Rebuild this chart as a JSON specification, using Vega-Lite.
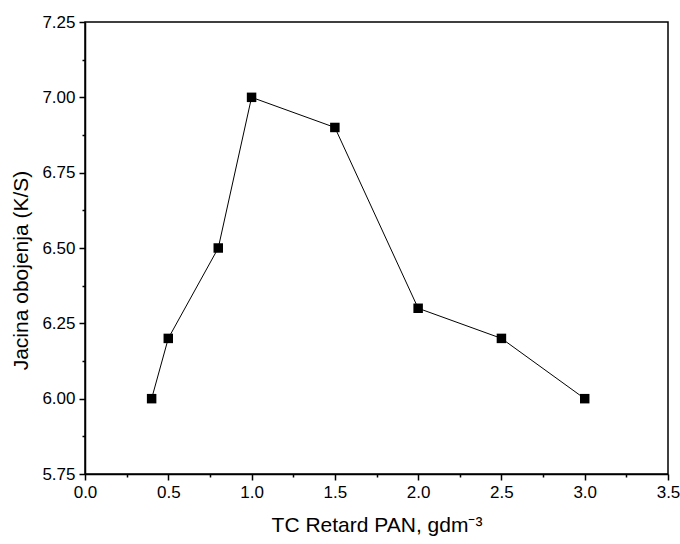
{
  "$schema": "https://vega.github.io/schema/vega-lite/v6.json",
  "width": 583,
  "height": 452,
  "autosize": {"type": "none"},
  "padding": {"left": 85, "top": 22, "right": 12, "bottom": 70},
  "background": "white",
  "config": {
    "view": {"stroke": "black", "strokeWidth": 1.5},
    "font": "Liberation Sans",
    "axis": {"grid": false, "domainColor": "black", "domainWidth": 1.5, "tickColor": "black", "tickWidth": 1.5, "labelColor": "black", "titleColor": "black", "labelFont": "Liberation Sans", "titleFont": "Liberation Sans", "titleFontWeight": "normal", "labelFontSize": 17, "titleFontSize": 21, "labelFlush": false, "labelOverlap": false, "labelBound": false}
  },
  "data": {"values": [
    {"x": 0.4, "y": 6.0},
    {"x": 0.5, "y": 6.2},
    {"x": 0.8, "y": 6.5},
    {"x": 1.0, "y": 7.0},
    {"x": 1.5, "y": 6.9},
    {"x": 2.0, "y": 6.3},
    {"x": 2.5, "y": 6.2},
    {"x": 3.0, "y": 6.0}
  ]},
  "layer": [
    {
      "mark": {"type": "line", "color": "black", "strokeWidth": 1},
      "encoding": {
        "x": {"field": "x", "type": "quantitative", "scale": {"domain": [0, 3.5], "nice": false, "zero": false},
              "axis": {"orient": "bottom", "values": [0, 0.5, 1, 1.5, 2, 2.5, 3, 3.5], "format": ".1f", "tickSize": 6, "labelPadding": 4, "title": "TC Retard PAN, gdm⁻³", "titlePadding": 14}},
        "y": {"field": "y", "type": "quantitative", "scale": {"domain": [5.75, 7.25], "nice": false, "zero": false},
              "axis": {"orient": "left", "values": [5.75, 6, 6.25, 6.5, 6.75, 7, 7.25], "format": ".2f", "tickSize": 6, "labelPadding": 4, "title": "Jacina obojenja (K/S)", "titlePadding": 10, "titleY": 248}}
      }
    },
    {
      "mark": {"type": "square", "color": "black", "opacity": 1, "size": 90},
      "encoding": {
        "x": {"field": "x", "type": "quantitative",
              "axis": {"orient": "bottom", "values": [0.25, 0.75, 1.25, 1.75, 2.25, 2.75, 3.25], "labels": false, "domain": false, "tickSize": 3, "title": null}},
        "y": {"field": "y", "type": "quantitative",
              "axis": {"orient": "left", "values": [5.875, 6.125, 6.375, 6.625, 6.875, 7.125], "labels": false, "domain": false, "tickSize": 3, "title": null}}
      }
    }
  ],
  "resolve": {"axis": {"x": "independent", "y": "independent"}}
}
